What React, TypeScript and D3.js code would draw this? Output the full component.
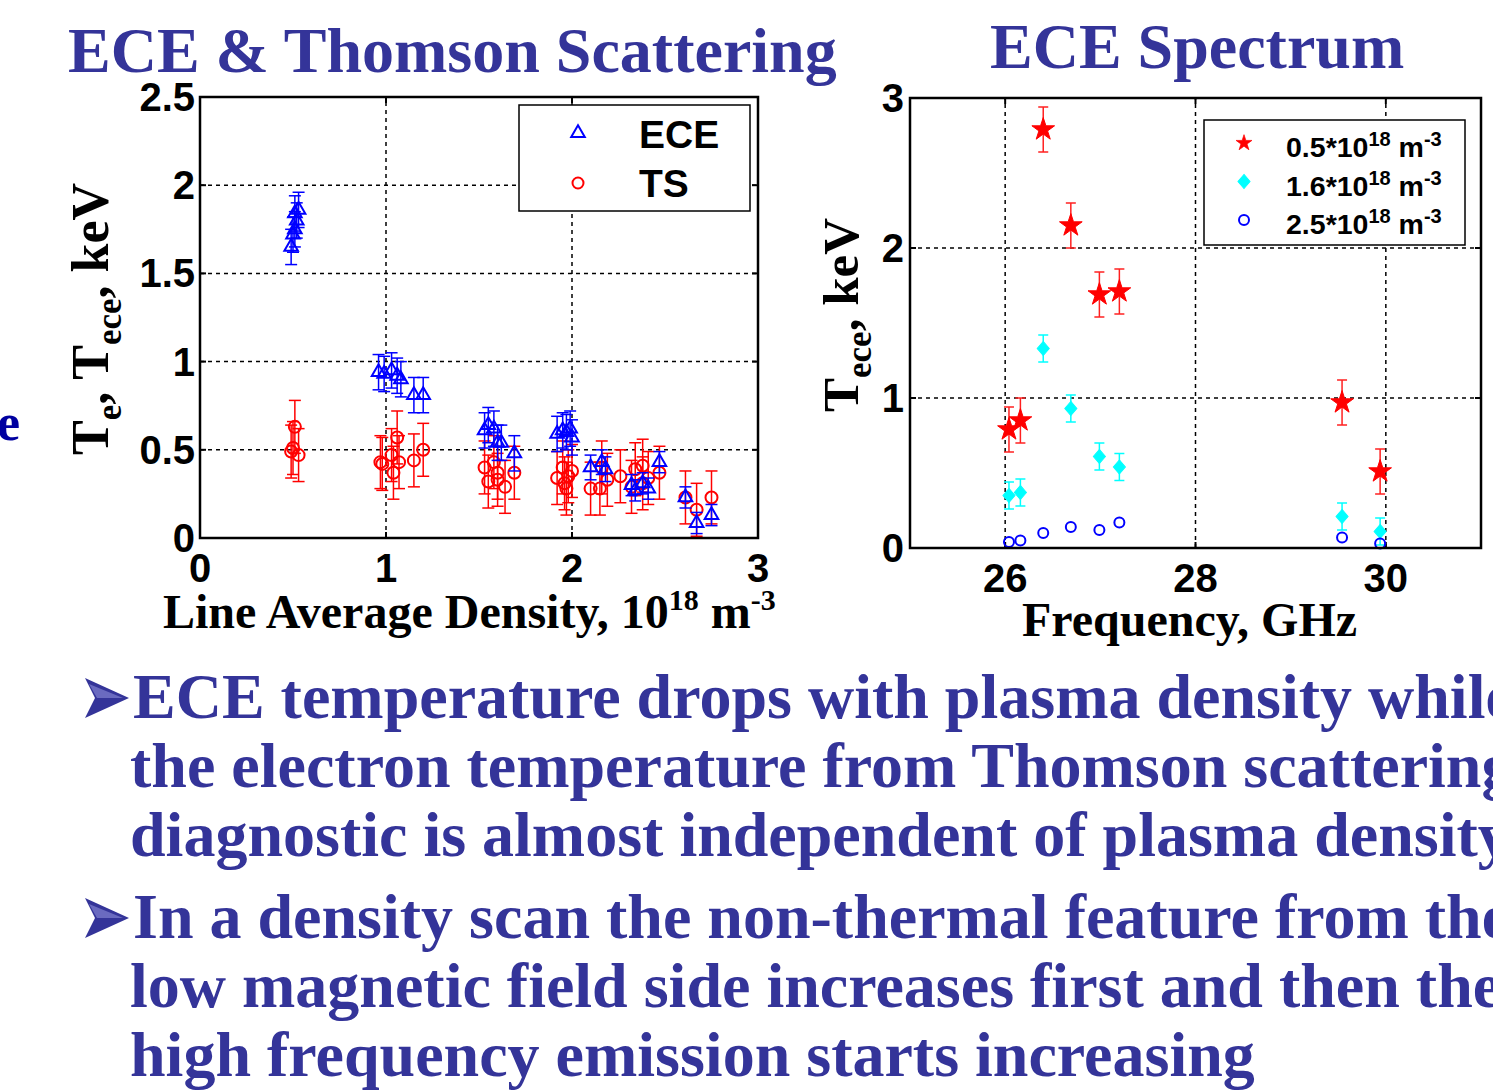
import React from "react";
import * as d3 from "d3";

// ---------- Left chart data (ECE & Thomson scattering vs density) ----------
const eceDensity = [0.49, 0.5, 0.51, 0.52, 0.53, 0.51, 0.96, 0.99, 1.03, 1.06, 1.08, 1.15, 1.2, 1.53, 1.55, 1.58, 1.6, 1.62, 1.69, 1.92, 1.95, 1.97, 1.99, 2.0, 2.1, 2.16, 2.18, 2.32, 2.34, 2.38, 2.41, 2.47, 2.61, 2.67, 2.75];
const eceTemp = [1.65, 1.72, 1.84, 1.8, 1.86, 1.75, 0.94, 0.93, 0.95, 0.92, 0.9, 0.81, 0.81, 0.61, 0.64, 0.62, 0.54, 0.54, 0.48, 0.59, 0.61, 0.6, 0.62, 0.57, 0.4, 0.43, 0.39, 0.3, 0.27, 0.31, 0.28, 0.43, 0.23, 0.085, 0.13];
const eceErr = [0.1, 0.1, 0.1, 0.1, 0.1, 0.1, 0.1, 0.1, 0.1, 0.1, 0.1, 0.1, 0.1, 0.1, 0.1, 0.1, 0.1, 0.1, 0.1, 0.1, 0.1, 0.1, 0.1, 0.1, 0.07, 0.07, 0.07, 0.06, 0.06, 0.06, 0.06, 0.06, 0.06, 0.06, 0.06];

const tsDensity = [0.49, 0.5, 0.51, 0.53, 0.97, 0.98, 1.03, 1.04, 1.06, 1.07, 1.15, 1.2, 1.53, 1.55, 1.58, 1.6, 1.6, 1.64, 1.69, 1.92, 1.95, 1.96, 1.97, 1.98, 2.0, 2.1, 2.15, 2.16, 2.19, 2.26, 2.32, 2.34, 2.38, 2.38, 2.41, 2.47, 2.61, 2.67, 2.75];
const tsTemp = [0.49, 0.51, 0.63, 0.47, 0.43, 0.42, 0.47, 0.37, 0.57, 0.43, 0.44, 0.5, 0.4, 0.32, 0.43, 0.37, 0.33, 0.29, 0.37, 0.34, 0.4, 0.31, 0.28, 0.35, 0.38, 0.28, 0.28, 0.4, 0.33, 0.35, 0.29, 0.39, 0.41, 0.31, 0.34, 0.37, 0.23, 0.16, 0.23];
const tsErr = 0.15;

const leftXTicks = [0, 1, 2, 3];
const leftYTicks = [0, 0.5, 1, 1.5, 2, 2.5];
const leftYTickLabels = ["0", "0.5", "1", "1.5", "2", "2.5"];

// ---------- Right chart data (ECE spectrum) ----------
const frequency = [26.04, 26.16, 26.4, 26.69, 26.99, 27.2, 29.54, 29.94];
const tempLow = [0.79, 0.85, 2.79, 2.15, 1.69, 1.71, 0.97, 0.51];
const tempLowErr = 0.15;
const tempMid = [0.35, 0.37, 1.33, 0.93, 0.61, 0.54, 0.21, 0.11];
const tempMidErr = 0.09;
const tempHigh = [0.04, 0.05, 0.1, 0.14, 0.12, 0.17, 0.07, 0.03];

const rightXTicks = [26, 28, 30];
const rightYTicks = [0, 1, 2, 3];
const legendDensities = ["0.5", "1.6", "2.5"];

const bullet1 = [
  "ECE temperature drops with plasma density while",
  "the electron temperature from Thomson scattering",
  "diagnostic is almost independent of plasma density",
];
const bullet2 = [
  "In a density scan the non-thermal feature from the",
  "low magnetic field side increases first and then the",
  "high frequency emission starts increasing",
];

const TITLE = "#343499";
const SANS = "'Liberation Sans', Arial, Helvetica, sans-serif";
const SERIF = "'Liberation Serif', 'Times New Roman', serif";
const TICK_FS = 40;

const triPath = d3.symbol().type(d3.symbolTriangle).size(80)() as string;
const starPath = d3.symbol().type(d3.symbolStar).size(160)() as string;
const diamondPath = d3.symbol().type(d3.symbolDiamond2).size(115)() as string;

function ErrBar({ x, y0, y1, cap, color }: { x: number; y0: number; y1: number; cap: number; color: string }) {
  return (
    <g stroke={color} strokeWidth={1.5} fill="none">
      <line x1={x} x2={x} y1={y0} y2={y1} />
      <line x1={x - cap} x2={x + cap} y1={y0} y2={y0} />
      <line x1={x - cap} x2={x + cap} y1={y1} y2={y1} />
    </g>
  );
}

function Bullet({ x, y }: { x: number; y: number }) {
  return (
    <g fill={TITLE}>
      <path d={`M${x},${y - 20} L${x + 44},${y} L${x},${y + 20} L${x + 10},${y} Z`} />
      <path d={`M${x + 4},${y - 14} L${x + 38},${y} L${x + 12},${y} Z`} fill="#6a6ac0" />
    </g>
  );
}

function LeftChart() {
  const x = d3.scaleLinear().domain([0, 3]).range([200, 758]);
  const y = d3.scaleLinear().domain([0, 2.5]).range([538, 97]);
  const [x0, x1] = x.range();
  const [yb, yt] = y.range();
  return (
    <g>
      {[1, 2].map((v) => (
        <line key={"gx" + v} x1={x(v)} x2={x(v)} y1={yb} y2={yt} stroke="#000" strokeWidth={1.5} strokeDasharray="4,4" />
      ))}
      {[0.5, 1, 1.5, 2].map((v) => (
        <line key={"gy" + v} x1={x0} x2={x1} y1={y(v)} y2={y(v)} stroke="#000" strokeWidth={1.5} strokeDasharray="4,4" />
      ))}
      {leftXTicks.map((v) => (
        <g key={"tx" + v}>
          <line x1={x(v)} x2={x(v)} y1={yb} y2={yb - 6} stroke="#000" strokeWidth={2} />
          <line x1={x(v)} x2={x(v)} y1={yt} y2={yt + 6} stroke="#000" strokeWidth={2} />
          <text x={x(v)} y={yb + 44} textAnchor="middle" fontFamily={SANS} fontWeight="bold" fontSize={TICK_FS}>{v}</text>
        </g>
      ))}
      {leftYTicks.map((v, i) => (
        <g key={"ty" + v}>
          <line x1={x0} x2={x0 + 6} y1={y(v)} y2={y(v)} stroke="#000" strokeWidth={2} />
          <line x1={x1} x2={x1 - 6} y1={y(v)} y2={y(v)} stroke="#000" strokeWidth={2} />
          <text x={x0 - 5} y={y(v) + 14} textAnchor="end" fontFamily={SANS} fontWeight="bold" fontSize={TICK_FS}>{leftYTickLabels[i]}</text>
        </g>
      ))}
      {tsDensity.map((d, i) => (
        <ErrBar key={"te" + i} x={x(d)} y0={y(tsTemp[i] + tsErr)} y1={y(tsTemp[i] - tsErr)} cap={6} color="#ff0000" />
      ))}
      {tsDensity.map((d, i) => (
        <circle key={"tc" + i} cx={x(d)} cy={y(tsTemp[i])} r={6} fill="none" stroke="#ff0000" strokeWidth={2} />
      ))}
      {eceDensity.map((d, i) => (
        <ErrBar key={"ee" + i} x={x(d)} y0={y(eceTemp[i] + eceErr[i])} y1={y(eceTemp[i] - eceErr[i])} cap={6} color="#0000ff" />
      ))}
      {eceDensity.map((d, i) => (
        <path key={"et" + i} d={triPath} transform={`translate(${x(d)},${y(eceTemp[i])})`} fill="none" stroke="#0000ff" strokeWidth={2} />
      ))}
      <rect x={x0} y={yt} width={x1 - x0} height={yb - yt} fill="none" stroke="#000" strokeWidth={2.5} />
      <rect x={519} y={105} width={231} height={106} fill="#fff" stroke="#000" strokeWidth={1.5} />
      <path d={triPath} transform="translate(578,133)" fill="none" stroke="#0000ff" strokeWidth={2} />
      <text x={639} y={148} fontFamily={SANS} fontWeight="bold" fontSize={39}>ECE</text>
      <circle cx={578} cy={183} r={5.5} fill="none" stroke="#ff0000" strokeWidth={2} />
      <text x={639} y={197} fontFamily={SANS} fontWeight="bold" fontSize={39}>TS</text>
      <text x={163} y={628} fontFamily={SERIF} fontWeight="bold" fontSize={48}>
        Line Average Density, 10<tspan dy={-18} fontSize={30}>18</tspan><tspan dy={18}> m</tspan><tspan dy={-18} fontSize={30}>-3</tspan>
      </text>
      <text transform="translate(108,455) rotate(-90)" fontFamily={SERIF} fontWeight="bold" fontSize={52}>
        T<tspan dy={13} fontSize={35}>e</tspan><tspan dy={-13}>, T</tspan><tspan dy={13} fontSize={35}>ece</tspan><tspan dy={-13}>, keV</tspan>
      </text>
    </g>
  );
}

function RightChart() {
  const x = d3.scaleLinear().domain([25, 31]).range([910, 1481]);
  const y = d3.scaleLinear().domain([0, 3]).range([548, 98]);
  const [x0, x1] = x.range();
  const [yb, yt] = y.range();
  const legendColors = ["#ff0000", "#00ffff", "#0000ff"];
  return (
    <g>
      {rightXTicks.map((v) => (
        <line key={"gx" + v} x1={x(v)} x2={x(v)} y1={yb} y2={yt} stroke="#000" strokeWidth={1.5} strokeDasharray="4,4" />
      ))}
      {[1, 2].map((v) => (
        <line key={"gy" + v} x1={x0} x2={x1} y1={y(v)} y2={y(v)} stroke="#000" strokeWidth={1.5} strokeDasharray="4,4" />
      ))}
      {rightXTicks.map((v) => (
        <g key={"tx" + v}>
          <line x1={x(v)} x2={x(v)} y1={yb} y2={yb - 6} stroke="#000" strokeWidth={2} />
          <line x1={x(v)} x2={x(v)} y1={yt} y2={yt + 6} stroke="#000" strokeWidth={2} />
          <text x={x(v)} y={yb + 44} textAnchor="middle" fontFamily={SANS} fontWeight="bold" fontSize={TICK_FS}>{v}</text>
        </g>
      ))}
      {rightYTicks.map((v) => (
        <g key={"ty" + v}>
          <line x1={x0} x2={x0 + 6} y1={y(v)} y2={y(v)} stroke="#000" strokeWidth={2} />
          <line x1={x1} x2={x1 - 6} y1={y(v)} y2={y(v)} stroke="#000" strokeWidth={2} />
          <text x={x0 - 6} y={y(v) + 14} textAnchor="end" fontFamily={SANS} fontWeight="bold" fontSize={TICK_FS}>{v}</text>
        </g>
      ))}
      {frequency.map((f, i) => (
        <ErrBar key={"le" + i} x={x(f)} y0={y(tempLow[i] + tempLowErr)} y1={y(tempLow[i] - tempLowErr)} cap={5} color="#ff2020" />
      ))}
      {frequency.map((f, i) => (
        <path key={"ls" + i} d={starPath} transform={`translate(${x(f)},${y(tempLow[i])})`} fill="#ff0000" stroke="#ff0000" strokeWidth={1} />
      ))}
      {frequency.map((f, i) => (
        <ErrBar key={"me" + i} x={x(f)} y0={y(tempMid[i] + tempMidErr)} y1={y(tempMid[i] - tempMidErr)} cap={5} color="#00ffff" />
      ))}
      {frequency.map((f, i) => (
        <path key={"md" + i} d={diamondPath} transform={`translate(${x(f)},${y(tempMid[i])}) scale(0.9,1.05)`} fill="#00ffff" stroke="#00ffff" strokeWidth={1} />
      ))}
      {frequency.map((f, i) => (
        <circle key={"hc" + i} cx={x(f)} cy={y(tempHigh[i])} r={5} fill="none" stroke="#0000ff" strokeWidth={2} />
      ))}
      <rect x={x0} y={yt} width={x1 - x0} height={yb - yt} fill="none" stroke="#000" strokeWidth={2.5} />
      <rect x={1204} y={120} width={261} height={125} fill="#fff" stroke="#000" strokeWidth={1.5} />
      {legendDensities.map((d, i) => {
        const cy = 143 + i * 38.5;
        return (
          <g key={"lg" + i}>
            {i === 0 && <path d={starPath} transform={`translate(1244,${cy}) scale(0.7)`} fill={legendColors[0]} stroke={legendColors[0]} />}
            {i === 1 && <path d={diamondPath} transform={`translate(1244,${cy}) scale(0.9,1.05)`} fill={legendColors[1]} stroke={legendColors[1]} />}
            {i === 2 && <circle cx={1244} cy={cy} r={5} fill="none" stroke={legendColors[2]} strokeWidth={2} />}
            <text x={1286} y={cy + 14} fontFamily={SANS} fontWeight="bold" fontSize={28.5}>
              {d}*10<tspan dy={-11} fontSize={20}>18</tspan><tspan dy={11}> m</tspan><tspan dy={-11} fontSize={20}>-3</tspan>
            </text>
          </g>
        );
      })}
      <text x={1022} y={636} fontFamily={SERIF} fontWeight="bold" fontSize={48}>Frequency, GHz</text>
      <text transform="translate(858,412) rotate(-90)" fontFamily={SERIF} fontWeight="bold" fontSize={51}>
        T<tspan dy={13} fontSize={35}>ece</tspan><tspan dy={-13}>, keV</tspan>
      </text>
    </g>
  );
}

export default function App() {
  return (
    <svg width={1493} height={1091} style={{ position: "absolute", left: 0, top: 0, background: "#fff" }}>
      <rect width={1493} height={1091} fill="#fff" />
      <text x={68} y={72} fontFamily={SERIF} fontWeight="bold" fontSize={64} fill={TITLE}>ECE &amp; Thomson Scattering</text>
      <text x={990} y={68} fontFamily={SERIF} fontWeight="bold" fontSize={64} fill={TITLE}>ECE Spectrum</text>
      <text x={-3} y={440} fontFamily={SERIF} fontWeight="bold" fontSize={52} fill="#0000a0">e</text>
      <LeftChart />
      <RightChart />
      {[bullet1, bullet2].map((lines, b) => {
        const base = b === 0 ? 718 : 938;
        return (
          <g key={"b" + b}>
            <Bullet x={85} y={base - 20} />
            {lines.map((t, i) => (
              <text key={i} x={i === 0 ? 133 : 130} y={base + i * 69} fontFamily={SERIF} fontWeight="bold" fontSize={64} fill={TITLE}>{t}</text>
            ))}
          </g>
        );
      })}
    </svg>
  );
}
